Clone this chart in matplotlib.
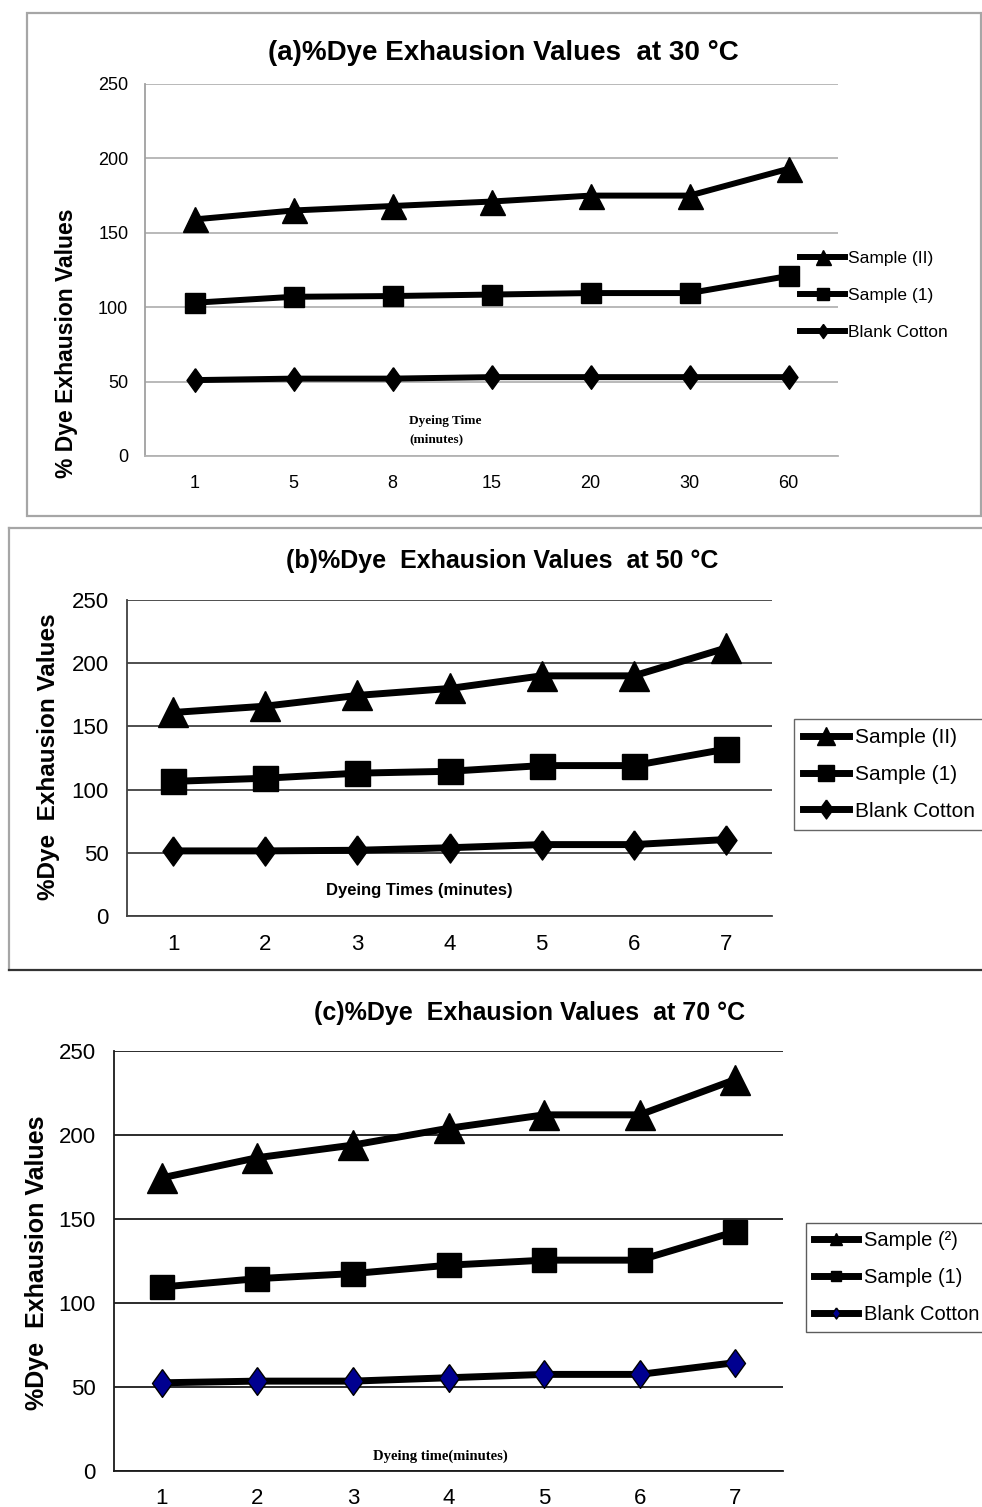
import matplotlib
matplotlib.use('Agg')
import matplotlib.pyplot as plt
from matplotlib import font_manager
from matplotlib.patches import Rectangle
from matplotlib.lines import Line2D

# ---------- data ----------
times_a = ['1', '5', '8', '15', '20', '30', '60']
sample2_a = [159, 165, 168, 171, 175, 175, 193]
sample1_a = [103, 107, 107.5, 108.5, 109.5, 109.5, 121]
blank_a = [51, 52, 52, 53, 53, 53, 53]

times_bc = ['1', '2', '3', '4', '5', '6', '7']
sample2_b = [161, 166, 174.5, 180, 190, 190, 212]
sample1_b = [106.5, 109, 113, 114.5, 119, 119, 132]
blank_b = [51.5, 51.5, 52, 54, 56.5, 56.5, 60.5]

sample2_c = [174.5, 186.5, 194, 204, 212, 212, 233]
sample1_c = [109.5, 114.5, 117.5, 122.5, 125.5, 125.5, 142.5]
blank_c = [52.5, 53.5, 53.5, 55.5, 57.5, 57.5, 64.5]

labels_ab = ['Sample (II)', 'Sample (1)', 'Blank Cotton']
labels_c = ['Sample (\u00b2)', 'Sample (1)', 'Blank Cotton']

# ---------- fonts ----------
names = {f.name for f in font_manager.fontManager.ttflist}
NARROW = 'Liberation Sans Narrow' if 'Liberation Sans Narrow' in names else 'Liberation Sans'
SANS = 'Liberation Sans'
SERIF = 'Liberation Serif'
CALIBRI = NARROW

W, H = 982, 1507
fig = plt.figure(figsize=(W/100, H/100), dpi=100)

def px_axes(l, t, r, b):
    return fig.add_axes([l/W, 1-b/H, (r-l)/W, (b-t)/H])

def ftext(x, y, s, **kw):
    fig.text(x/W, 1-y/H, s, ha=kw.pop('ha', 'center'), va=kw.pop('va', 'center'), **kw)

diamond = [(0, 1), (0.72, 0), (0, -1), (-0.72, 0), (0, 1)]

def panel(ax, xt, series, grid_col, spine_col, lw, tickfont, tsize, xpad, ypad):
    x = range(len(xt))
    for ys, mk, size, mfc in series:
        ax.plot(x, ys, color='black', lw=lw, marker=mk, ms=size,
                mfc=mfc, mec='black', mew=1, solid_joinstyle='round')
    ax.set_xlim(-0.5, len(xt) - 0.5)
    ax.set_ylim(0, 250)
    ax.set_yticks([0, 50, 100, 150, 200, 250])
    ax.set_xticks(list(x))
    ax.set_xticklabels(xt)
    ax.yaxis.grid(True, color=grid_col, lw=1.3)
    ax.set_axisbelow(True)
    for s in ['top', 'right']:
        ax.spines[s].set_visible(False)
    ax.spines['left'].set_color(spine_col)
    ax.spines['bottom'].set_color(grid_col)
    ax.spines['left'].set_linewidth(1.3)
    ax.spines['bottom'].set_linewidth(1.3)
    ax.tick_params(length=0)
    ax.tick_params(axis='x', pad=xpad)
    ax.tick_params(axis='y', pad=ypad)
    for t in ax.get_xticklabels() + ax.get_yticklabels():
        t.set_fontfamily(tickfont)
        t.set_fontsize(tsize)

# ---------- panel (a) ----------
fig.add_artist(Rectangle((27/W, 1-516/H), 954/W, 503/H, transform=fig.transFigure,
                         fill=False, ec='#a6a6a6', lw=1.6))
axa = px_axes(145, 84, 838, 456)
panel(axa, times_a,
      [(sample2_a, '^', 18, 'black'), (sample1_a, 's', 15, 'black'), (blank_a, diamond, 17, 'black')],
      '#b3b3b3', '#a0a0a0', 4.3, CALIBRI, 13, 14, 12)
ftext(503, 53, '(a)%Dye Exhausion Values  at 30 \u00b0C', fontfamily=CALIBRI, fontsize=20, fontweight='bold')
ftext(67, 343, '% Dye Exhausion Values', rotation=90, fontfamily=SANS, fontsize=16.5, fontweight='bold')
ftext(409, 421, 'Dyeing Time', ha='left', fontfamily=SERIF, fontsize=9.5, fontweight='bold')
ftext(409, 439, '(minutes)', ha='left', fontfamily=SERIF, fontsize=9.5, fontweight='bold')
axa.legend(axa.get_lines(), labels_ab, loc='upper left', bbox_to_anchor=(800/W, 1-251/H),
           bbox_transform=fig.transFigure, frameon=False, borderpad=0, borderaxespad=0,
           handlelength=2.6, handletextpad=0.15, labelspacing=1.25, markerscale=0.6,
           prop={'family': CALIBRI, 'size': 12.5})

# ---------- panel (b) ----------
fig.add_artist(Line2D([9/W, 982/W], [1-528/H, 1-528/H], color='#a6a6a6', lw=1.6))
fig.add_artist(Line2D([9/W, 9/W], [1-528/H, 1-970/H], color='#a6a6a6', lw=1.6))
fig.add_artist(Line2D([9/W, 982/W], [1-970/H, 1-970/H], color='#333333', lw=1.6))
axb = px_axes(127, 600, 772, 916)
panel(axb, times_bc,
      [(sample2_b, '^', 21, 'black'), (sample1_b, 's', 18, 'black'), (blank_b, diamond, 21, 'black')],
      '#404040', '#404040', 5, NARROW, 16, 13, 13)
ftext(502, 561, '(b)%Dye  Exhausion Values  at 50 \u00b0C', fontfamily=NARROW, fontsize=18, fontweight='bold')
ftext(49, 757, '%Dye  Exhausion Values', rotation=90, fontfamily=SANS, fontsize=17.5, fontweight='bold')
ftext(419, 890, 'Dyeing Times (minutes)', fontfamily=NARROW, fontsize=12, fontweight='bold')
leg = axb.legend(axb.get_lines(), labels_ab, loc='upper left', bbox_to_anchor=(794/W, 1-719/H),
                 bbox_transform=fig.transFigure, frameon=True, fancybox=False, borderpad=0.45,
                 borderaxespad=0, handlelength=2.2, handletextpad=0.3, labelspacing=0.85,
                 markerscale=0.65, prop={'family': SANS, 'size': 15})
leg.get_frame().set_edgecolor('#404040')
leg.get_frame().set_linewidth(1.0)

# ---------- panel (c) ----------
axc = px_axes(114, 1051, 783, 1471)
panel(axc, times_bc,
      [(sample2_c, '^', 21, 'black'), (sample1_c, 's', 17, 'black'), (blank_c, diamond, 20, '#000090')],
      '#1a1a1a', '#1a1a1a', 5, NARROW, 16, 12, 13)
ftext(530, 1013, '(c)%Dye  Exhausion Values  at 70 \u00b0C', fontfamily=NARROW, fontsize=18, fontweight='bold')
ftext(37, 1263, '%Dye  Exhausion Values', rotation=90, fontfamily=SANS, fontsize=18, fontweight='bold')
ftext(440, 1456, 'Dyeing time(minutes)', fontfamily=SERIF, fontsize=10.5, fontweight='bold')
leg = axc.legend(axc.get_lines(), labels_c, loc='upper left', bbox_to_anchor=(806/W, 1-1223/H),
                 bbox_transform=fig.transFigure, frameon=True, fancybox=False, borderpad=0.4,
                 borderaxespad=0, handlelength=2.2, handletextpad=0.3, labelspacing=0.9,
                 markerscale=0.4, prop={'family': SANS, 'size': 14.5})
leg.get_frame().set_edgecolor('#333333')
leg.get_frame().set_linewidth(1.0)

fig.savefig('out.png', dpi=100)
